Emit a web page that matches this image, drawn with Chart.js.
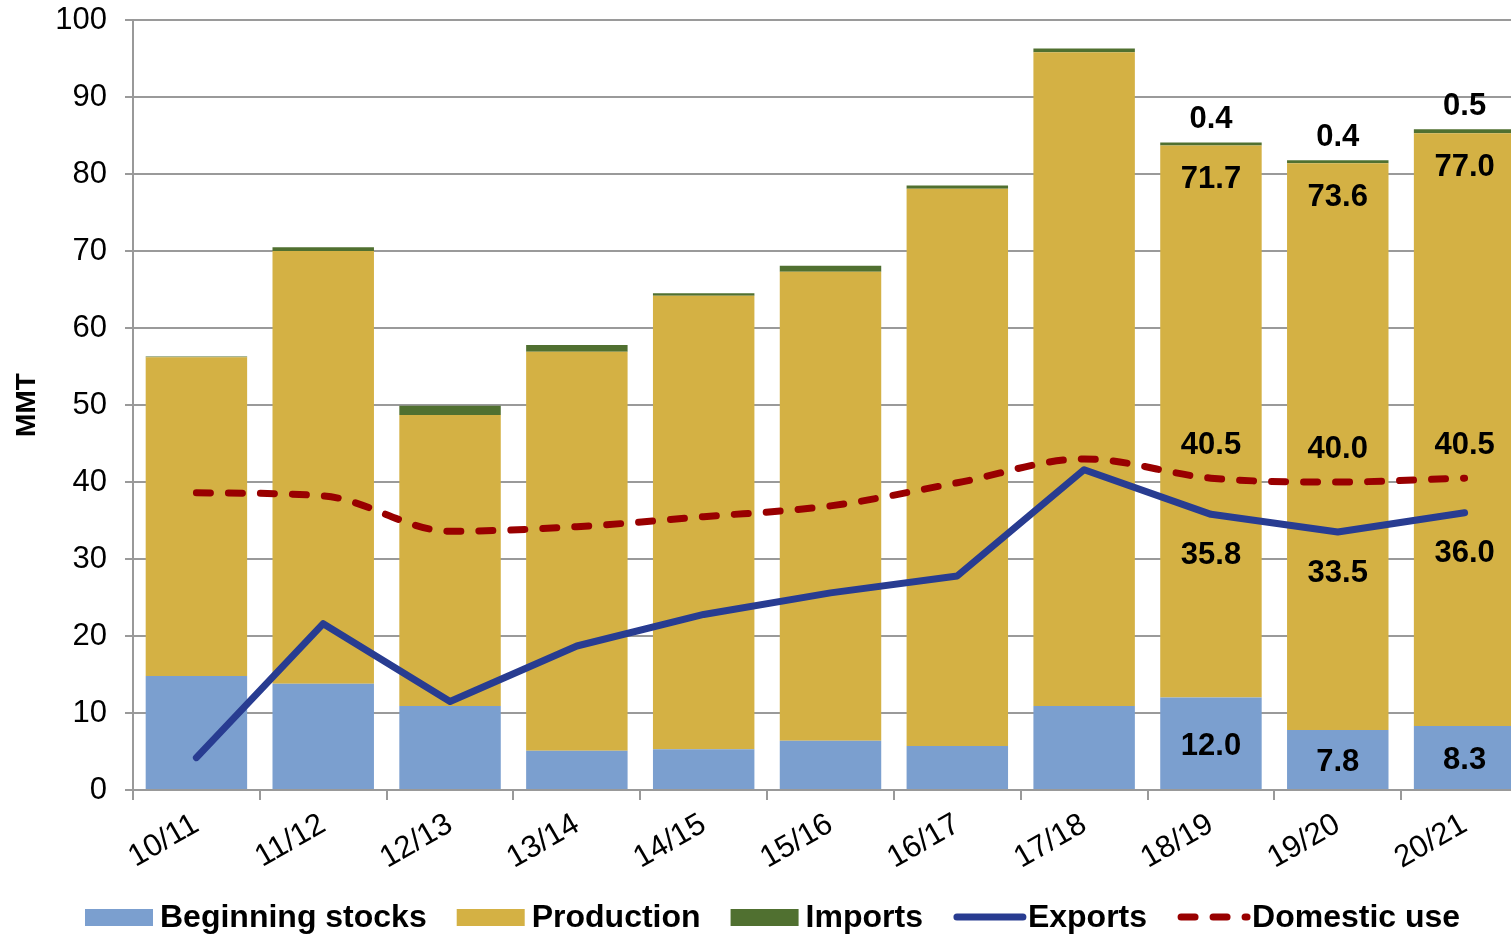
<!DOCTYPE html>
<html lang="en">
<head>
  <meta charset="UTF-8">
  <title>Supply and Use, MMT</title>
  <script src="https://cdn.jsdelivr.net/npm/chart.js"></script>
  <style>
    html, body {
      margin: 0;
      padding: 0;
      overflow: hidden;
      background: #fff;
    }
    canvas {
      display: block;
    }
  </style>
</head>
<body>
  <canvas id="supplyChart" width="1528" height="935"></canvas>

  <script>
    // Marketing years
    const seasons = ['10/11', '11/12', '12/13', '13/14', '14/15', '15/16', '16/17', '17/18', '18/19', '19/20', '20/21'];

    // Supply components (stacked bars), MMT
    const beginningStocks = [14.8, 13.8, 10.9, 5.1, 5.3, 6.4, 5.7, 10.9, 12.0, 7.8, 8.3];
    const production = [41.4, 56.2, 37.8, 51.8, 58.9, 60.9, 72.4, 84.9, 71.7, 73.6, 77.0];
    const imports = [0.1, 0.5, 1.2, 0.9, 0.3, 0.8, 0.4, 0.5, 0.4, 0.4, 0.5];

    // Use (lines), MMT
    const exportsMmt = [4.2, 21.6, 11.5, 18.7, 22.8, 25.6, 27.8, 41.6, 35.8, 33.5, 36.0];
    const domesticUse = [38.6, 38.2, 33.6, 34.2, 35.5, 36.9, 39.9, 43.0, 40.5, 40.0, 40.5];

    // Y axis ticks
    const yMin = 0;
    const yMax = 100;
    const yStep = 10;

    // only the last seasons carry value labels
    const labelledFrom = 8;

    const FONT = '"Liberation Sans", Arial, sans-serif';

    // Value labels drawn next to the marks
    const valueLabels = {
      id: 'valueLabels',
      afterDatasetsDraw(chart) {
        const ctx = chart.ctx;
        ctx.save();
        ctx.font = 'bold 31px ' + FONT;
        ctx.fillStyle = '#000';
        ctx.textAlign = 'center';
        ctx.textBaseline = 'middle';
        chart.data.datasets.forEach((ds, di) => {
          const meta = chart.getDatasetMeta(di);
          meta.data.forEach((el, i) => {
            if (i < labelledFrom) return;
            let y;
            if (ds.labelAt === 'middle') y = (el.y + el.base) / 2 + 3;
            else y = el.y + ds.labelAt;
            ctx.fillText(ds.data[i].toFixed(1), el.x, y);
          });
        });
        ctx.restore();
      }
    };

    // Legend along the bottom, bar swatches and line samples
    const bottomLegend = {
      id: 'bottomLegend',
      afterDraw(chart) {
        const ctx = chart.ctx;
        const y = 917;
        let x = 85;
        ctx.save();
        ctx.font = 'bold 32px ' + FONT;
        ctx.textBaseline = 'middle';
        ctx.textAlign = 'left';
        chart.data.datasets.forEach(ds => {
          if (ds.type === 'line') {
            ctx.strokeStyle = ds.borderColor;
            ctx.lineWidth = ds.borderWidth;
            ctx.lineCap = 'round';
            ctx.setLineDash(ds.borderDash || []);
            ctx.beginPath();
            ctx.moveTo(x + 4, y);
            ctx.lineTo(x + 70, y);
            ctx.stroke();
            ctx.setLineDash([]);
          } else {
            ctx.fillStyle = ds.backgroundColor;
            ctx.fillRect(x, y - 8, 68, 17);
          }
          x += 75;
          ctx.fillStyle = '#000';
          ctx.fillText(ds.label, x, y + 1);
          x += ctx.measureText(ds.label).width + 30;
        });
        ctx.restore();
      }
    };

    const ctx = document.getElementById('supplyChart').getContext('2d');
    const supplyChart = new Chart(ctx, {
      type: 'bar',
      data: {
        labels: seasons,
        datasets: [
          {
            label: 'Beginning stocks',
            data: beginningStocks,
            backgroundColor: '#7b9fcf',
            labelAt: 'middle',
            order: 2
          },
          {
            label: 'Production',
            data: production,
            backgroundColor: '#d4b144',
            labelAt: 34,
            order: 2
          },
          {
            label: 'Imports',
            data: imports,
            backgroundColor: '#507030',
            labelAt: -23,
            order: 2
          },
          {
            type: 'line',
            label: 'Exports',
            data: exportsMmt,
            stack: 'exports',
            borderColor: '#283c91',
            borderWidth: 7,
            borderCapStyle: 'round',
            borderJoinStyle: 'round',
            tension: 0,
            pointRadius: 0,
            labelAt: 41,
            order: 1
          },
          {
            type: 'line',
            label: 'Domestic use',
            data: domesticUse,
            stack: 'domestic',
            borderColor: '#990000',
            borderWidth: 7,
            borderDash: [14, 18],
            borderCapStyle: 'round',
            cubicInterpolationMode: 'monotone',
            pointRadius: 0,
            labelAt: -33,
            order: 0
          }
        ]
      },
      options: {
        responsive: false,
        animation: false,
        devicePixelRatio: 1,
        layout: {
          padding: { top: 20, right: 0, bottom: 0, left: 0 }
        },
        datasets: {
          bar: {
            categoryPercentage: 1.0,
            barPercentage: 0.8
          }
        },
        plugins: {
          legend: { display: false },
          tooltip: { enabled: false }
        },
        scales: {
          x: {
            stacked: true,
            offset: true,
            afterFit(scale) {
              scale.height = 145;
              scale.paddingLeft = 0;
              scale.paddingRight = 0;
            },
            grid: {
              offset: true,
              drawOnChartArea: false,
              drawTicks: true,
              tickLength: 10,
              color: '#999',
              lineWidth: 2
            },
            border: { color: '#999', width: 2 },
            ticks: {
              minRotation: 30,
              maxRotation: 30,
              padding: 6,
              color: '#000',
              font: { family: FONT, size: 31 }
            }
          },
          y: {
            stacked: true,
            min: yMin,
            max: yMax,
            afterFit(scale) {
              scale.width = 133;
              scale.paddingTop = 0;
              scale.paddingBottom = 0;
            },
            grid: {
              color: '#9a9a9a',
              lineWidth: 2,
              tickLength: 8
            },
            border: { color: '#999', width: 2 },
            ticks: {
              stepSize: yStep,
              padding: 18,
              color: '#000',
              font: { family: FONT, size: 31 }
            },
            title: {
              display: true,
              text: 'MMT',
              color: '#000',
              padding: { top: 10, bottom: 0 },
              font: { family: FONT, size: 28, weight: 'bold' }
            }
          }
        }
      },
      plugins: [valueLabels, bottomLegend]
    });
  </script>
</body>
</html>
